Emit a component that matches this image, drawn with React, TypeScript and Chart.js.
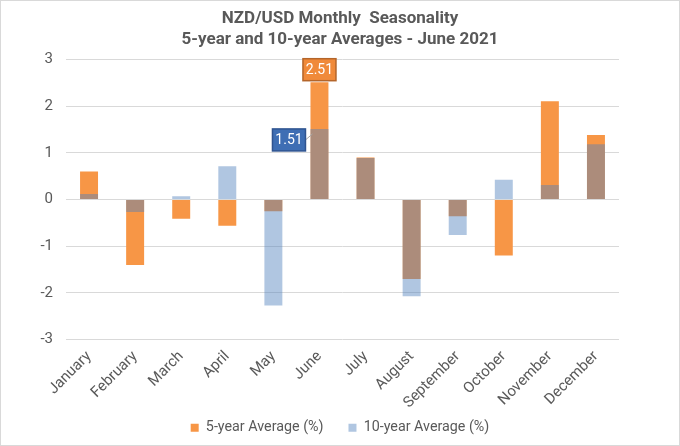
import React, { useEffect, useRef } from "react";
import { Chart, registerables } from "chart.js";

Chart.register(...registerables);

const months = [
  "January", "February", "March", "April", "May", "June",
  "July", "August", "September", "October", "November", "December",
];
const fiveYear = [0.6, -1.4, -0.41, -0.56, -0.25, 2.51, 0.9, -1.7, -0.36, -1.2, 2.1, 1.38];
const tenYear = [0.12, -0.27, 0.07, 0.71, -2.27, 1.51, 0.89, -2.07, -0.76, 0.42, 0.31, 1.18];
const titleLines = ["NZD/USD Monthly  Seasonality", "5-year and 10-year Averages - June 2021"];
const seriesNames = ["5-year Average (%)", "10-year Average (%)"];
const calloutIndex = 5;

const FONT = "Roboto, 'Noto Sans', sans-serif";
const GRAY = "#595959";

const calloutPlugin = {
  id: "callouts",
  afterDatasetsDraw(chart: any) {
    const ctx = chart.ctx;
    const m5 = chart.getDatasetMeta(0);
    const m10 = chart.getDatasetMeta(1);
    const e5 = m5.data[calloutIndex];
    const e10 = m10.data[calloutIndex];
    if (!e5 || !e10) return;
    ctx.save();
    ctx.font = "14px " + FONT;
    ctx.textAlign = "center";
    ctx.textBaseline = "middle";
    const w = 33, h = 22;
    // 5-year label above bar
    const x5 = e5.x - w / 2;
    const y5 = e5.y - h - 1.5;
    ctx.fillStyle = "#F08A3A";
    ctx.strokeStyle = "#B4652A";
    ctx.lineWidth = 1.5;
    ctx.fillRect(x5, y5, w, h);
    ctx.strokeRect(x5, y5, w, h);
    ctx.fillStyle = "#ffffff";
    ctx.fillText(fiveYear[calloutIndex].toFixed(2), e5.x, y5 + h / 2 + 1);
    // 10-year label left of bar
    const half = e10.width / 2;
    const bx = e10.x - half - 5 - w;
    const by = e10.y;
    ctx.strokeStyle = "#a6a6a6";
    ctx.lineWidth = 1;
    ctx.beginPath();
    ctx.moveTo(bx + w, by + h / 2);
    ctx.lineTo(e10.x - half + 2, by + 5);
    ctx.stroke();
    ctx.fillStyle = "#3E6EB4";
    ctx.strokeStyle = "#2F5490";
    ctx.lineWidth = 1.5;
    ctx.fillRect(bx, by, w, h);
    ctx.strokeRect(bx, by, w, h);
    ctx.fillStyle = "#ffffff";
    ctx.fillText(tenYear[calloutIndex].toFixed(2), bx + w / 2, by + h / 2 + 1);
    ctx.restore();
  },
};

export default function App() {
  const ref = useRef<HTMLCanvasElement>(null);
  useEffect(() => {
    if (!ref.current) return;
    const chart = new Chart(ref.current, {
      type: "bar",
      data: {
        labels: months,
        datasets: [
          {
            label: seriesNames[0],
            data: fiveYear,
            backgroundColor: "#F79646",
            order: 1,
            grouped: false,
            categoryPercentage: 1,
            barPercentage: 0.39,
            yAxisID: "y",
          } as any,
          {
            label: seriesNames[1],
            data: tenYear,
            backgroundColor: "rgba(79,129,189,0.45)",
            order: 0,
            grouped: false,
            categoryPercentage: 1,
            barPercentage: 0.39,
            yAxisID: "y",
          } as any,
        ],
      },
      options: {
        animation: false,
        responsive: false,
        devicePixelRatio: 1,
        layout: { padding: { left: 0, right: 0, top: 0, bottom: 0 } },
        plugins: {
          title: {
            display: true,
            text: titleLines,
            color: GRAY,
            font: { family: FONT, size: 17, weight: "bold", lineHeight: 1.2 },
            padding: { top: 8, bottom: 9.5 },
          },
          legend: {
            position: "bottom",
            labels: {
              color: GRAY,
              font: { family: FONT, size: 14.3 },
              boxWidth: 8,
              boxHeight: 8,
              padding: 25,
              sort: (a: any, b: any) => a.datasetIndex - b.datasetIndex,
            },
          },
          tooltip: { enabled: false },
        },
        scales: {
          x: {
            grid: { display: false, drawTicks: false },
            border: { display: false },
            ticks: {
              color: GRAY,
              font: { family: FONT, size: 15 },
              minRotation: 45,
              maxRotation: 45,
              padding: 8,
            },
            afterFit: (s: any) => {
              s.height = 56;
              s._computeLabelArea = () => undefined;
            },
          },
          y: {
            position: "left",
            min: -3,
            max: 3,
            grid: { color: "#d9d9d9", drawTicks: false },
            border: { display: false },
            ticks: {
              stepSize: 1,
              color: GRAY,
              font: { family: FONT, size: 15 },
              padding: 13,
            },
            afterFit: (s: any) => {
              s.width = 65;
            },
          },
          yRight: {
            position: "right",
            min: -3,
            max: 3,
            grid: { display: false, drawTicks: false },
            border: { display: false },
            ticks: { display: false },
            afterFit: (s: any) => {
              s.width = 60;
            },
          },
        },
      },
      plugins: [calloutPlugin],
    });
    return () => chart.destroy();
  }, []);
  return (
    <div
      style={{
        position: "fixed",
        left: 0,
        top: 0,
        width: 680,
        height: 446,
        background: "#fff",
        boxSizing: "border-box",
        border: "1px solid #d9d9d9",
      }}
    >
      <canvas ref={ref} width={678} height={444} style={{ display: "block" }} />
    </div>
  );
}
